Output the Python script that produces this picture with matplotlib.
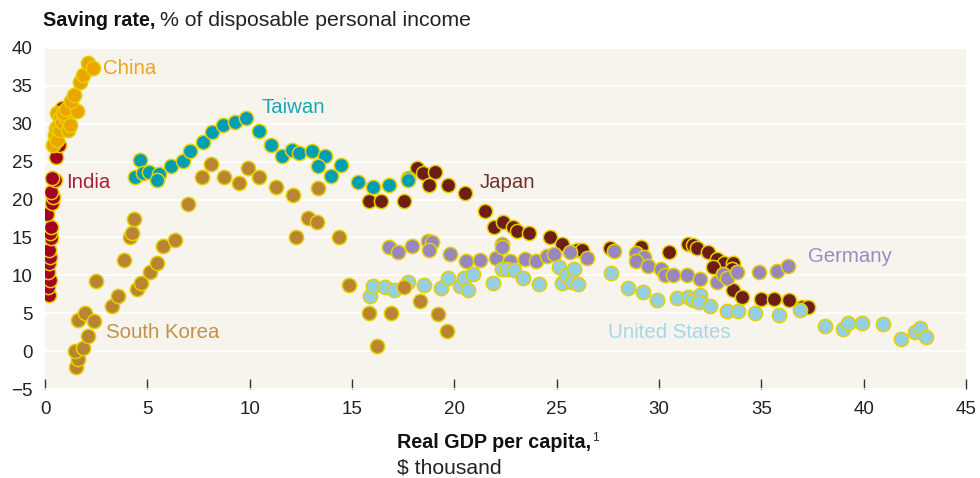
import matplotlib
matplotlib.use("Agg")
import matplotlib.pyplot as plt

plt.rcParams['font.family'] = ['Liberation Sans', 'DejaVu Sans']

# real GDP per capita ($ thousand) and saving rate (% of disposable income)
india_x = [0.20, 0.15, 0.24, 0.15, 0.20, 0.24, 0.20, 0.29, 0.24, 0.29, 0.10, 0.34,
           0.39, 0.29, 0.49, 0.34, 0.54, 0.68, 0.83]
india_y = [7.4, 8.4, 9.4, 10.4, 11.6, 12.4, 13.3, 14.9, 15.6, 16.4, 18.1, 19.5,
           20.3, 21.0, 22.6, 22.8, 25.6, 27.2, 32.1]

china_x = [0.39, 0.49, 0.59, 0.54, 0.64, 0.73, 0.59, 0.73, 0.83, 0.98, 1.12, 1.22,
           0.88, 1.03, 1.56, 1.27, 1.42, 1.71, 1.86, 2.10, 2.34]
china_y = [27.2, 28.5, 27.8, 29.4, 29.7, 29.2, 31.4, 30.7, 30.2, 30.9, 29.2, 29.9,
           31.4, 31.9, 31.7, 33.0, 33.8, 35.5, 36.5, 38.0, 37.3]

japan_x = [15.83, 16.41, 17.54, 18.17, 18.47, 19.05, 18.76, 19.69, 20.52, 21.49,
           21.93, 22.37, 22.86, 23.06, 23.64, 24.67, 25.26, 25.99, 26.23, 27.60,
           29.12, 30.48, 31.41, 31.66, 31.85, 32.39, 32.83, 33.17, 33.61, 32.63,
           33.56, 33.61, 34.05, 34.98, 35.61, 36.35, 36.98, 37.27]
japan_y = [19.8, 19.8, 19.8, 24.1, 23.5, 23.7, 21.9, 21.9, 20.8, 18.5,
           16.4, 17.0, 16.4, 15.8, 15.6, 15.0, 14.2, 13.3, 13.3, 13.6,
           13.7, 13.1, 14.1, 14.0, 13.6, 13.1, 12.1, 11.6, 11.6, 11.1,
           10.8, 8.0, 7.1, 6.9, 6.9, 6.7, 5.8, 5.8]

germany_x = [16.81, 17.24, 17.93, 18.71, 18.91, 18.76, 19.78, 20.57, 21.25, 22.03,
             22.33, 22.33, 22.72, 23.45, 23.99, 24.52, 24.87, 25.65, 26.48, 27.80,
             28.87, 29.26, 28.87, 29.46, 30.09, 30.29, 30.68, 31.36, 32.00, 32.83,
             33.12, 33.32, 33.81, 34.88, 35.76, 36.30]
germany_y = [13.7, 13.1, 13.9, 14.5, 14.4, 13.3, 12.8, 11.9, 12.0, 12.3,
             14.1, 13.7, 11.9, 12.1, 11.9, 12.5, 12.8, 13.1, 12.3, 13.2,
             12.9, 12.4, 11.9, 11.2, 10.9, 10.0, 10.0, 10.0, 9.5, 9.1,
             10.2, 9.6, 10.4, 10.4, 10.6, 11.2]

us_x = [15.88, 16.02, 16.61, 17.05, 17.73, 18.51, 19.35, 19.69, 20.27, 20.47,
        20.66, 20.91, 21.89, 22.33, 22.57, 22.91, 23.35, 24.13, 25.11, 25.26,
        25.45, 25.84, 25.75, 26.04, 27.65, 28.48, 29.21, 29.90, 30.87, 31.41,
        31.66, 32.00, 31.95, 32.49, 33.32, 33.85, 34.68, 35.86, 36.88, 38.10,
        38.98, 39.23, 39.91, 40.94, 41.82, 42.50, 42.75, 43.04]
us_y = [7.3, 8.6, 8.4, 8.0, 9.1, 8.7, 8.3, 9.6, 8.6, 9.6,
        8.0, 10.2, 9.0, 10.8, 10.9, 10.7, 9.6, 8.8, 11.1, 9.0,
        10.0, 10.8, 9.1, 8.8, 10.3, 8.3, 7.8, 6.7, 7.0, 7.1,
        6.7, 7.4, 6.5, 5.9, 5.3, 5.3, 5.0, 4.7, 5.4, 3.3,
        2.9, 3.7, 3.7, 3.6, 1.6, 2.5, 3.0, 1.8]

korea_x = [1.51, 1.61, 1.47, 1.86, 2.10, 1.61, 1.95, 2.39, 2.49, 3.27, 3.57, 3.86,
           4.15, 4.25, 4.35, 4.49, 4.69, 5.13, 5.47, 5.76, 6.35, 6.98, 7.67, 8.11,
           8.75, 9.48, 9.92, 10.45, 11.28, 12.12, 13.34, 12.85, 13.29, 12.26, 14.36,
           14.85, 15.83, 16.90, 17.54, 18.32, 19.20, 19.64, 16.22]
korea_y = [-2.1, -1.1, 0.0, 0.4, 2.0, 4.1, 5.0, 4.0, 9.2, 5.9, 7.3, 12.0,
           15.0, 15.6, 17.4, 8.2, 9.0, 10.4, 11.6, 13.9, 14.6, 19.4, 23.0, 24.7,
           23.0, 22.2, 24.1, 23.0, 21.6, 20.6, 21.5, 17.5, 17.0, 15.0, 15.0,
           8.7, 5.0, 5.0, 8.4, 6.6, 4.9, 2.6, 0.7]

taiwan_x = [4.64, 4.40, 4.79, 5.08, 5.57, 5.47, 6.16, 6.74, 7.08, 7.72, 8.16, 8.69,
            9.28, 9.82, 10.45, 11.04, 11.58, 12.07, 12.41, 13.04, 13.68, 13.34,
            13.97, 14.46, 15.29, 16.02, 16.81, 17.73, 17.73]
taiwan_y = [25.2, 23.0, 23.5, 23.7, 23.4, 22.6, 24.4, 25.1, 26.4, 27.6, 28.9, 29.9,
            30.3, 30.7, 29.0, 27.2, 25.7, 26.6, 26.1, 26.4, 25.7, 24.4,
            23.1, 24.5, 22.3, 21.6, 21.9, 22.8, 22.6]

# series drawn back to front, with label text position
series = [
    ("India", india_x, india_y, "#a30022", "#a8213a", (1.05, 22.3)),
    ("China", china_x, china_y, "#eca400", "#eea31a", (2.85, 37.3)),
    ("Japan", japan_x, japan_y, "#6d1f16", "#73322a", (21.25, 22.3)),
    ("Germany", germany_x, germany_y, "#9787bd", "#9a8bbf", (37.3, 12.5)),
    ("United States", us_x, us_y, "#94d0e2", "#a6d7e6", (27.5, 2.5)),
    ("South Korea", korea_x, korea_y, "#b98533", "#bf9250", (3.0, 2.5)),
    ("Taiwan", taiwan_x, taiwan_y, "#009eb1", "#1aa6b6", (10.6, 32.2)),
]

fig = plt.figure(figsize=(9.8, 4.78), dpi=100)
ax = fig.add_axes([45 / 980, 1 - 389 / 478, 921 / 980, 341 / 478])
ax.set_facecolor("#f7f4ee")

for name, xs, ys, col, lcol, (lx, ly) in series:
    ax.scatter(xs, ys, s=105, c=col, edgecolors="#e4d000", linewidths=1.1, zorder=3)
    ax.text(lx, ly, name, color=lcol, fontsize=14.7, va="center", ha="left", zorder=4)

ax.set_xlim(0, 45)
ax.set_ylim(-5, 40)
ax.set_xticks(range(0, 46, 5))
ax.set_yticks(range(-5, 41, 5))
ax.set_yticklabels(["\u22125"] + [str(v) for v in range(0, 41, 5)])
ax.grid(axis="y", color="white", linewidth=1.3, zorder=1)
ax.set_axisbelow(True)
for sp in ax.spines.values():
    sp.set_visible(False)
ax.tick_params(axis="x", direction="in", length=7, width=1, color="#333333",
               labelsize=13.5, labelcolor="#222222", pad=9)
ax.tick_params(axis="y", length=0, labelsize=13.5, labelcolor="#222222", pad=9)

# title and axis caption built from bold + regular pieces
renderer = fig.canvas.get_renderer()
t1 = fig.text(43 / 980, 1 - 20 / 478, "Saving rate,", fontsize=14.2, fontweight="bold",
              color="#111111", va="center")
bb = t1.get_window_extent(renderer)
fig.text((bb.x1 + 5) / 980, 1 - 20 / 478, "% of disposable personal income",
         fontsize=15.3, color="#222222", va="center")

t2 = fig.text(397 / 980, 1 - 443 / 478, "Real GDP per capita,", fontsize=14.2,
              fontweight="bold", color="#111111", va="center")
bb2 = t2.get_window_extent(renderer)
fig.text((bb2.x1 + 1) / 980, 1 - 438 / 478, "1", fontsize=8.5, color="#222222",
         va="center")
fig.text(397 / 980, 1 - 468 / 478, "$ thousand", fontsize=15.2, color="#222222",
         va="center")

fig.savefig("out.png", dpi=100)
